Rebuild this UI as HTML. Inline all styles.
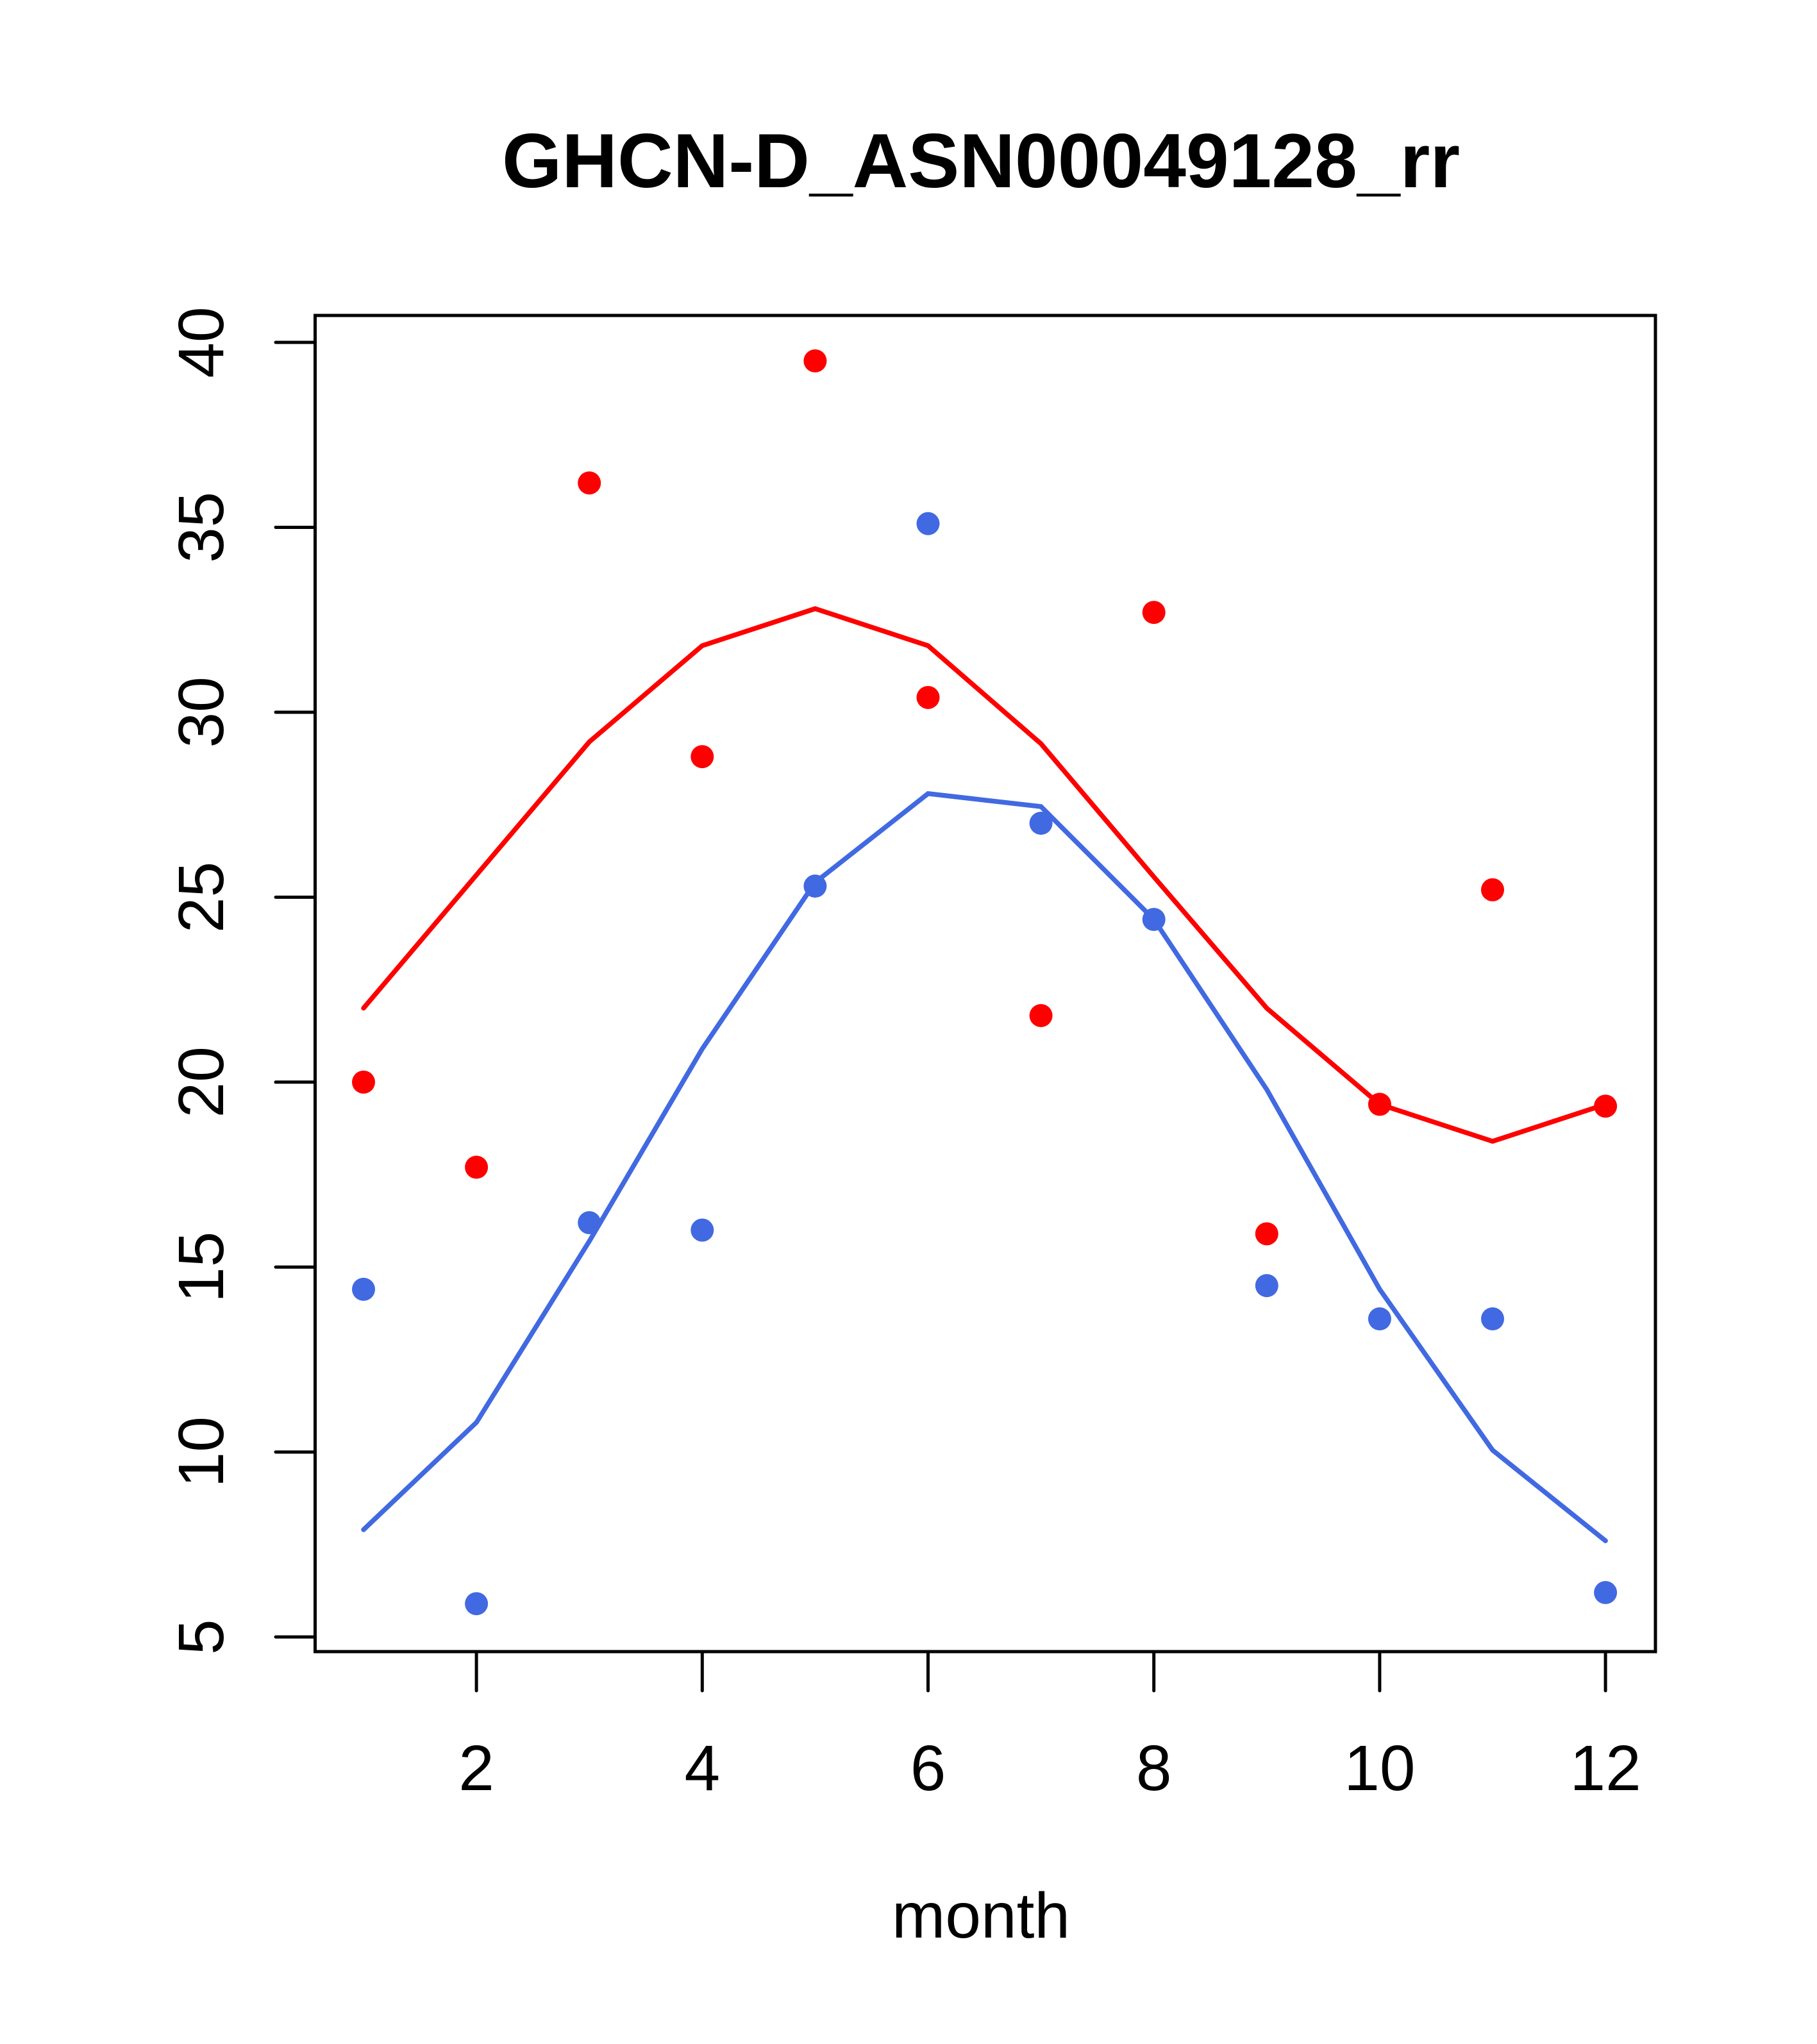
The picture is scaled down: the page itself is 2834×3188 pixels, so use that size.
<!DOCTYPE html>
<html><head><meta charset="utf-8"><style>
html,body{margin:0;padding:0;background:#fff}
svg{display:block}
text{font-family:"Liberation Sans",Arial,sans-serif}
</style></head><body>
<svg id="chart" width="2834" height="3188" viewBox="0 0 2834 3188" xmlns="http://www.w3.org/2000/svg">
<rect width="2834" height="3188" fill="#fff"/>
<text x="1530" y="292" font-size="120" font-weight="bold" text-anchor="middle">GHCN-D_ASN00049128_rr</text>
<rect x="491.5" y="492" width="2090.5" height="2084" fill="none" stroke="#000" stroke-width="5"/>
<g id="xaxis"></g>
<g id="yaxis"></g>
<g id="series"></g>
<text x="1530" y="3022" font-size="100" text-anchor="middle">month</text>
</svg>
<script>
const months=[1,2,3,4,5,6,7,8,9,10,11,12];
const redPoints=[20.0,17.7,36.2,28.8,39.5,30.4,21.8,32.7,15.9,19.4,25.2,19.35];
const redLine=[22.0,25.6,29.2,31.8,32.8,31.8,29.15,25.55,22.0,19.4,18.4,19.4];
const bluePoints=[14.4,5.9,16.2,16.0,25.3,35.1,27.0,24.4,14.5,13.6,13.6,6.2];
const blueLine=[7.9,10.8,15.7,20.9,25.4,27.8,27.45,24.4,19.8,14.4,10.05,7.6];
const xTicks=[2,4,6,8,10,12];
const yTicks=[5,10,15,20,25,30,35,40];

const NS="http://www.w3.org/2000/svg";
function xs(m){return 567+(m-1)*176.1;}
function ys(v){return 534+(40-v)*57.69;}
function mk(tag,attrs,parent){const e=document.createElementNS(NS,tag);for(const k in attrs)e.setAttribute(k,attrs[k]);parent.appendChild(e);return e;}

const xa=document.getElementById('xaxis');
xTicks.forEach(t=>{
  const l=mk('line',{x1:xs(t),x2:xs(t),y1:2576,y2:2637,stroke:'#000','stroke-width':5,'stroke-linecap':'round'},xa);
  
  
  const tx=mk('text',{x:xs(t),y:2792,'font-size':100,'text-anchor':'middle'},xa);
  tx.textContent=t;
  
  
});
const ya=document.getElementById('yaxis');
yTicks.forEach(t=>{
  const l=mk('line',{x1:430,x2:491.5,y1:ys(t),y2:ys(t),stroke:'#000','stroke-width':5,'stroke-linecap':'round'},ya);
  
  
  const tx=mk('text',{x:0,y:0,'font-size':100,'text-anchor':'middle',transform:`translate(348,${ys(t)}) rotate(-90)`},ya);
  tx.textContent=t;
  
  
});
const sg=document.getElementById('series');
function line(vals,color,name){
  const p=mk('polyline',{points:vals.map((v,i)=>xs(months[i])+','+ys(v)).join(' '),fill:'none',stroke:color,'stroke-width':7.5,'stroke-linecap':'round'},sg);
  
  
}
function pts(vals,color,name){
  vals.forEach((v,i)=>{
    const c=mk('circle',{cx:xs(months[i]),cy:ys(v),r:18,fill:color},sg);
    
    
  });
}
line(redLine,'#FF0000','red-line');
line(blueLine,'#4169E1','blue-line');
pts(redPoints,'#FF0000','red-point');
pts(bluePoints,'#4169E1','blue-point');
</script>
</body></html>
